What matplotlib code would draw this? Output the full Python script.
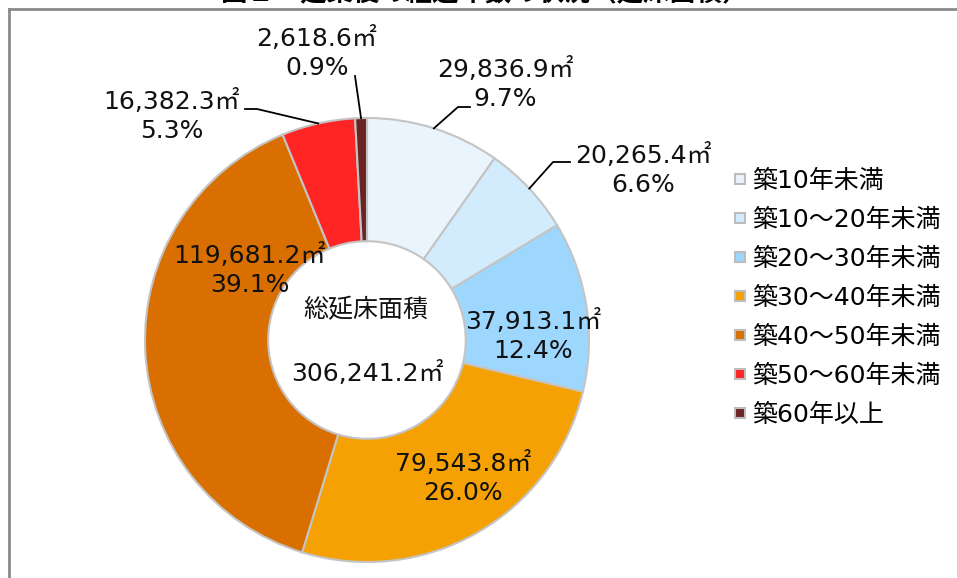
import matplotlib.pyplot as plt
from matplotlib.lines import Line2D
import numpy as np

plt.rcParams['font.family'] = ['DejaVu Sans', 'Noto Sans CJK JP']

W, H = 957, 578

categories = ['築10年未満', '築10～20年未満', '築20～30年未満', '築30～40年未満',
              '築40～50年未満', '築50～60年未満', '築60年以上']
areas = [29836.9, 20265.4, 37913.1, 79543.8, 119681.2, 16382.3, 2618.6]
shares = [9.7, 6.6, 12.4, 26.0, 39.1, 5.3, 0.9]
total_label = '306,241.2㎡'
colors = ['#EAF4FD', '#D2ECFD', '#9DD7FE', '#F5A104', '#D96F00', '#FF2525', '#6B2424']

# label centres (image px) and leader elbows
label_pos = [(505, 84), (643, 170), (533, 336), (463, 478), (250, 270), (172, 116), (317, 53)]
leader_elbow = {0: [(458, 107), (470, 107)],
                1: [(553, 162), (570, 162)],
                5: [(257, 109), (245, 109)],
                6: [(355, 76)]}

cx, cy, R = 367, 340, 222
FS = 18


def py(y):
    return H - y


fig = plt.figure(figsize=(W / 100, H / 100), dpi=100)
ax = fig.add_axes([0, 0, 1, 1])

ax.pie(areas, colors=colors, startangle=90, counterclock=False,
       center=(cx, py(cy)), radius=R,
       wedgeprops=dict(width=R * 0.555, edgecolor='#C4C4C4', linewidth=1.5))
ax.set_xlim(0, W)
ax.set_ylim(0, H)
ax.set_aspect('equal')
ax.axis('off')

frac = np.cumsum(areas) / np.sum(areas)
mids = frac - np.array(areas) / np.sum(areas) / 2
for i, (a, s) in enumerate(zip(areas, shares)):
    x, y = label_pos[i]
    ax.text(x, py(y), f'{a:,.1f}㎡\n{s:.1f}%', ha='center', va='center',
            fontsize=FS, linespacing=1.3, color='#111111')
    if i in leader_elbow:
        ang = np.deg2rad(90 - 360 * mids[i])
        pts = [(cx + R * np.cos(ang), cy - R * np.sin(ang))] + leader_elbow[i]
        ax.plot([p[0] for p in pts], [py(p[1]) for p in pts], color='black', lw=1.3)

ax.text(366, py(310), '総延床面積', ha='center', va='center', fontsize=FS, color='#111111')
ax.text(367, py(373), total_label, ha='center', va='center', fontsize=FS, color='#111111')

# legend
handles = [Line2D([], [], marker='s', linestyle='none', markersize=7,
                  markerfacecolor=c, markeredgecolor='#BDBDBD', markeredgewidth=1.5)
           for c in colors]
fig.legend(handles, categories, loc='upper left', bbox_to_anchor=(733 / W, 1 - 169 / H),
           frameon=False, fontsize=FS, handlelength=0.55, handletextpad=0.22,
           labelspacing=0.6, borderpad=0, borderaxespad=0)

# frame and cropped title
fig.add_artist(Line2D([9 / W, 1], [1 - 9 / H, 1 - 9 / H], color='#8A8A8A', lw=2))
fig.add_artist(Line2D([9 / W, 9 / W], [0, 1 - 9 / H], color='#8A8A8A', lw=2))
fig.text(485 / W, 1 - 1 / H, '図１　建築後の経過年数の状況（延床面積）', ha='center',
         va='baseline', fontsize=19, fontweight='bold', family=['Noto Sans CJK JP'])

fig.savefig('out.png', dpi=100)
